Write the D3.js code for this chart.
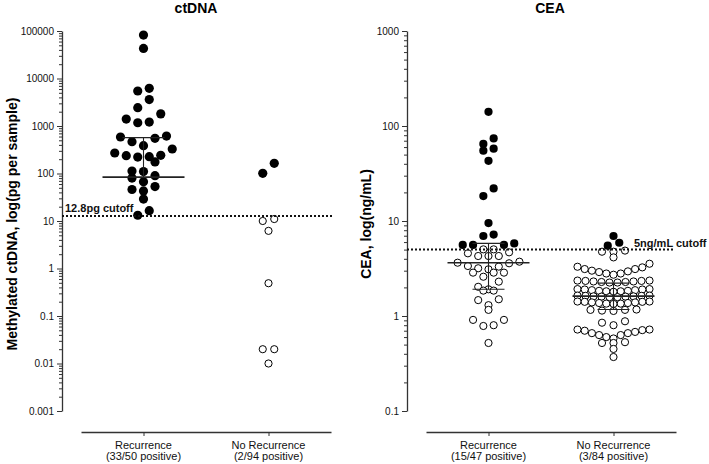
<!DOCTYPE html>
<html><head><meta charset="utf-8">
<script src="https://cdn.jsdelivr.net/npm/d3@7"></script>
<style>body{margin:0;background:#fff} text{font-family:"Liberation Sans", Arial, sans-serif}</style>
</head><body>
<svg id="c" width="709" height="464"></svg>
<script>
// ---------------- data ----------------
const ctdnaCategories = ["Recurrence", "No Recurrence"];
const ctdnaSubtitles = ["(33/50 positive)", "(2/94 positive)"];
const ctdnaRecPositive = [82000, 43000, 6200, 5450, 3600, 2430, 1800, 1400, 1210, 1170, 615, 587, 550, 468, 385, 328, 270, 237, 222, 226, 241, 175, 113, 110, 80, 90, 67, 53, 43, 46, 29, 16.5, 13.2];
const ctdnaRecNegative = [];
const ctdnaNoRecPositive = [164, 101];
const ctdnaNoRecNegative = [11, 10, 6.2, 0.49, 0.02, 0.02, 0.01];
const ctdnaMedian = [84, null];
const ctdnaQ1 = [null, null];
const ctdnaQ3 = [570, null];
const ctdnaCutoff = 12.8;
const ctdnaTicks = [0.001, 0.01, 0.1, 1, 10, 100, 1000, 10000, 100000];

const ceaCategories = ["Recurrence", "No Recurrence"];
const ceaSubtitles = ["(15/47 positive)", "(3/84 positive)"];
const ceaRecPositive = [141, 74, 64.7, 57.7, 55, 43, 22, 18.3, 9.5, 7.2, 6.95, 5.8, 5.6, 5.6, 5.6];
const ceaRecNegative = [5.03, 5.03, 4.68, 4.57, 4.28, 4.28, 4.28, 3.73, 3.64, 3.59, 3.36, 3.31, 3.18, 3.1,
  2.86, 2.86, 2.86, 2.59, 2.3, 2.03, 1.91, 1.85, 1.85, 1.5, 1.47, 1.3, 1.16, 0.91, 0.91, 0.8, 0.785, 0.52];
const ceaNoRecPositive = [6.95, 5.9, 5.5];
const ceaNoRecNegative = [4.88, 4.75, 4.75, 4.14,
  3.55, 3.30, 3.25, 3.12, 3.12, 3.00, 2.95, 2.90, 2.80, 2.80, 2.72,
  2.36, 2.34, 2.34, 2.31, 2.31, 2.28, 2.28, 2.25, 2.25, 2.36,
  1.92, 1.90, 1.90, 1.87, 1.87, 1.84, 1.84, 1.82, 1.82, 1.80, 1.92,
  1.64, 1.63, 1.63, 1.61, 1.61, 1.60, 1.60, 1.58, 1.58, 1.64,
  1.42, 1.41, 1.41, 1.39, 1.39, 1.37, 1.37, 1.35, 1.35, 1.34, 1.42,
  1.17, 1.16, 1.16, 1.14, 1.13,
  0.88, 0.85, 0.80,
  0.72, 0.72, 0.71, 0.70, 0.68, 0.66, 0.66, 0.63, 0.63, 0.60, 0.58,
  0.53, 0.52, 0.52,
  0.45, 0.37];
const ceaMedian = [3.64, 1.62];
const ceaQ1 = [1.91, 1.17];
const ceaQ3 = [5.82, 2.22];
const ceaCutoff = 5;
const ceaTicks = [0.1, 1, 10, 100, 1000];

// ---------------- drawing ----------------
const svg = d3.select("#c");
svg.append("rect").attr("width", 709).attr("height", 464).attr("fill", "#fff");

// row-based symmetric dot layout (GraphPad-like)
function swarm(values, y, cx, gr) {
  const pts = values.map(v => ({v: v.v, filled: v.f, y: y(v.v)})).sort((a, b) => a.y - b.y);
  const rows = [];
  let cur = null, prev = null;
  pts.forEach(p => {
    const newRow = !cur || (gr.gap != null ? p.y - prev.y > gr.gap : p.y - cur[0].y > gr.rowH);
    if (newRow) { cur = [p]; rows.push(cur); } else cur.push(p);
    prev = p;
  });
  rows.forEach(row => {
    const n = row.length;
    const step = n > 1 ? Math.min(gr.s, gr.maxW / (n - 1)) : gr.s;
    const pos = d3.range(n).map(k => (k - (n - 1) / 2) * step)
      .sort((a, b) => Math.abs(a) - Math.abs(b) || a - b);
    row.sort((a, b) => b.y - a.y);
    row.forEach((p, i) => p.x = cx + pos[i]);
  });
  return pts;
}

function panel(o) {
  const g = svg.append("g");
  const y = d3.scaleLog().domain(o.domain).range([411, 31]);
  const x = d3.scalePoint().domain(o.cats).range(o.xRange).padding(0.5);

  g.append("text").attr("x", o.titleX).attr("y", 13).attr("text-anchor", "middle")
    .attr("font-size", 14).attr("font-weight", "bold").text(o.title);

  // y axis
  const minor = [];
  o.ticks.forEach((t, i) => { if (i < o.ticks.length - 1) for (let k = 2; k <= 9; k++) minor.push(k * t); });
  const ya = g.append("g").attr("transform", `translate(${o.axisX},0)`)
    .call(d3.axisLeft(y).tickValues(o.ticks).tickSize(5).tickPadding(3).tickSizeOuter(0)
      .tickFormat(d => d >= 1 ? d3.format("d")(d) : String(+d.toPrecision(3))));
  ya.selectAll("text").attr("font-size", 10).attr("fill", "#111").attr("font-family", "Liberation Sans, Arial, sans-serif");
  ya.selectAll("line").attr("stroke", "#333");
  ya.select(".domain").attr("stroke", "#333").attr("stroke-width", 1.3);
  const ym = g.append("g").attr("transform", `translate(${o.axisX},0)`)
    .call(d3.axisLeft(y).tickValues(minor).tickSize(3).tickFormat(""));
  ym.select(".domain").remove();
  ym.selectAll("line").attr("stroke", "#333");

  g.append("text").attr("transform", `translate(${o.yTitleX},224) rotate(-90)`)
    .attr("text-anchor", "middle").attr("font-size", 14).attr("font-weight", "bold").text(o.yTitle);

  // x axis
  const xa = g.append("g").attr("transform", "translate(0,432)")
    .call(d3.axisBottom(x).tickSize(4).tickSizeOuter(0).tickFormat(""));
  xa.select(".domain").attr("stroke", "#333").attr("stroke-width", 1.3);
  xa.selectAll("line").attr("stroke", "#333");
  o.cats.forEach((c, i) => {
    const t = g.append("text").attr("text-anchor", "middle").attr("font-size", 11).attr("fill", "#111");
    t.append("tspan").attr("x", x(c)).attr("y", 449).text(c);
    t.append("tspan").attr("x", x(c)).attr("y", 460).text(o.subs[i]);
  });

  // points
  o.groups.forEach((gr, i) => {
    const vals = gr.pos.map(v => ({v, f: true})).concat(gr.neg.map(v => ({v, f: false})));
    const pts = swarm(vals, y, x(o.cats[i]), gr);
    g.selectAll(null).data(pts).enter().append("circle")
      .attr("cx", d => d.x).attr("cy", d => d.y)
      .attr("r", d => d.filled ? gr.rf : 3.6)
      .attr("fill", d => d.filled ? "#000" : "#fff")
      .attr("stroke", "#000").attr("stroke-width", d => d.filled ? 0 : 1);
  });

  // median + error bars
  o.cats.forEach((c, i) => {
    if (o.median[i] == null) return;
    const cx = x(c);
    g.append("line").attr("x1", cx - 41).attr("x2", cx + 41)
      .attr("y1", y(o.median[i])).attr("y2", y(o.median[i])).attr("stroke", "#222").attr("stroke-width", 1.6);
    const top = o.q3[i], bot = o.q1[i] == null ? o.median[i] : o.q1[i];
    g.append("line").attr("x1", cx).attr("x2", cx).attr("y1", y(top)).attr("y2", y(bot))
      .attr("stroke", "#222").attr("stroke-width", 1.1);
    [o.q3[i], o.q1[i]].forEach(q => {
      if (q == null) return;
      g.append("line").attr("x1", cx - o.cap).attr("x2", cx + o.cap)
        .attr("y1", y(q)).attr("y2", y(q)).attr("stroke", "#222").attr("stroke-width", 1.1);
    });
  });

  // cutoff
  const yc = y(o.cutoff);
  g.append("line").attr("x1", o.axisX).attr("x2", o.cutEnd).attr("y1", yc).attr("y2", yc)
    .attr("stroke", "#111").attr("stroke-width", 2).attr("stroke-dasharray", "2,2");
  g.append("text").attr("x", o.cutLabelX).attr("y", yc + o.cutLabelDy).attr("font-size", 11)
    .attr("font-weight", "bold").attr("fill", "#111").text(o.cutLabel);
}

panel({
  title: "ctDNA", titleX: 196, domain: [0.001, 100000], ticks: ctdnaTicks, axisX: 62,
  yTitle: "Methylated ctDNA, log(pg per sample)", yTitleX: 17,
  cats: ctdnaCategories, subs: ctdnaSubtitles, xRange: [81, 331],
  groups: [
    {pos: ctdnaRecPositive, neg: ctdnaRecNegative, s: 11.5, rowH: 10.2, maxW: 80, rf: 4.6},
    {pos: ctdnaNoRecPositive, neg: ctdnaNoRecNegative, s: 11.5, rowH: 10.2, maxW: 80, rf: 4.6}
  ],
  median: ctdnaMedian, q1: ctdnaQ1, q3: ctdnaQ3, cap: 21,
  cutoff: ctdnaCutoff, cutEnd: 333, cutLabel: "12.8pg cutoff", cutLabelX: 65, cutLabelDy: -4
});

panel({
  title: "CEA", titleX: 550, domain: [0.1, 1000], ticks: ceaTicks, axisX: 407,
  yTitle: "CEA, log(ng/mL)", yTitleX: 371,
  cats: ceaCategories, subs: ceaSubtitles, xRange: [426, 676],
  groups: [
    {pos: ceaRecPositive, neg: ceaRecNegative, s: 10.3, rowH: 8, maxW: 80, rf: 4.1},
    {pos: ceaNoRecPositive, neg: ceaNoRecNegative, s: 11.5, gap: 3.2, maxW: 72, rf: 4.1}
  ],
  median: ceaMedian, q1: ceaQ1, q3: ceaQ3, cap: 16,
  cutoff: ceaCutoff, cutEnd: 673, cutLabel: "5ng/mL cutoff", cutLabelX: 634, cutLabelDy: -3
});
</script>
</body></html>
